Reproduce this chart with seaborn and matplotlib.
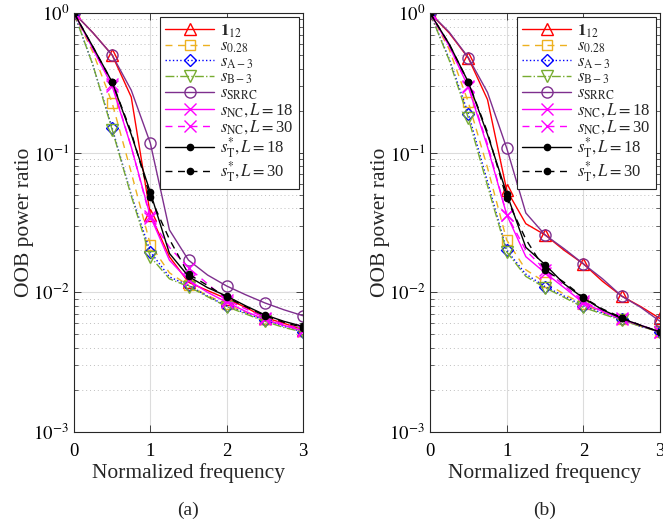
import numpy as np
import matplotlib
matplotlib.use("Agg")
import matplotlib.pyplot as plt
import seaborn as sns
from matplotlib.ticker import LogLocator, NullFormatter, FixedLocator

# ---------------- data ----------------
freq = [0, 0.25, 0.5, 0.75, 1, 1.25, 1.5, 1.75, 2, 2.25, 2.5, 2.75, 3]

# panel (a)
a_ones12 = [1, 0.72, 0.50, 0.25, 0.036, 0.018, 0.0118, 0.0103, 0.0090, 0.0078, 0.0066, 0.0060, 0.0054]
a_s028   = [1, 0.52, 0.227, 0.072, 0.022, 0.0138, 0.0112, 0.0095, 0.0082, 0.0072, 0.0064, 0.0058, 0.0053]
a_sA3    = [1, 0.42, 0.150, 0.050, 0.0195, 0.0129, 0.0112, 0.0094, 0.0080, 0.0071, 0.0063, 0.0057, 0.0052]
a_sB3    = [1, 0.42, 0.146, 0.049, 0.018, 0.0125, 0.0110, 0.0093, 0.0079, 0.0070, 0.0062, 0.0056, 0.0052]
a_srrc   = [1, 0.72, 0.50, 0.28, 0.117, 0.028, 0.017, 0.0133, 0.0111, 0.0096, 0.0084, 0.0075, 0.0068]
a_nc18   = [1, 0.55, 0.30, 0.11, 0.035, 0.017, 0.0122, 0.0100, 0.0085, 0.0073, 0.0064, 0.0058, 0.0053]
a_nc30   = [1, 0.55, 0.31, 0.11, 0.034, 0.021, 0.015, 0.0115, 0.0088, 0.0076, 0.0066, 0.0059, 0.0054]
a_t18    = [1, 0.57, 0.32, 0.135, 0.052, 0.019, 0.013, 0.0108, 0.0094, 0.0080, 0.0069, 0.0062, 0.0057]
a_t30    = [1, 0.57, 0.32, 0.14, 0.048, 0.024, 0.0135, 0.0112, 0.0092, 0.0079, 0.0068, 0.0061, 0.0056]

# panel (b)
b_ones12 = [1, 0.72, 0.476, 0.24, 0.054, 0.031, 0.0258, 0.020, 0.016, 0.012, 0.0094, 0.0079, 0.0065]
b_s028   = [1, 0.55, 0.23, 0.078, 0.0237, 0.0145, 0.0118, 0.0097, 0.0082, 0.0072, 0.0064, 0.0057, 0.0052]
b_sA3    = [1, 0.47, 0.19, 0.062, 0.020, 0.0135, 0.011, 0.0094, 0.0080, 0.0071, 0.0064, 0.0057, 0.0052]
b_sB3    = [1, 0.46, 0.177, 0.058, 0.0195, 0.013, 0.0108, 0.0092, 0.0078, 0.0070, 0.0063, 0.0057, 0.0052]
b_srrc   = [1, 0.73, 0.48, 0.27, 0.108, 0.037, 0.0258, 0.0205, 0.016, 0.0125, 0.0094, 0.0078, 0.0062]
b_nc18   = [1, 0.58, 0.295, 0.11, 0.036, 0.018, 0.0138, 0.0108, 0.0084, 0.0073, 0.0064, 0.0058, 0.0052]
b_nc30   = [1, 0.58, 0.30, 0.115, 0.036, 0.020, 0.0145, 0.0112, 0.0086, 0.0074, 0.0065, 0.0058, 0.0052]
b_t18    = [1, 0.60, 0.32, 0.135, 0.051, 0.021, 0.0158, 0.0115, 0.0091, 0.0075, 0.0065, 0.0058, 0.0052]
b_t30    = [1, 0.60, 0.32, 0.14, 0.047, 0.024, 0.0145, 0.0118, 0.0092, 0.0076, 0.0066, 0.0058, 0.0052]

labels = [r'$\mathbf{1}_{12}$', r'$s_{0.28}$', r'$s_{\mathrm{A-3}}$', r'$s_{\mathrm{B-3}}$',
          r'$s_{\mathrm{SRRC}}$', r'$s_{\mathrm{NC}}, L=$18', r'$s_{\mathrm{NC}}, L=$30',
          r'$s_{\mathrm{T}}^{*}, L=$18', r'$s_{\mathrm{T}}^{*}, L=$30']
xticks = [0, 1, 2, 3]
yticks = [1e-3, 1e-2, 1e-1, 1e0]
ytick_labels = [r'$10^{-3}$', r'$10^{-2}$', r'$10^{-1}$', r'$10^{0}$']
captions = ['(a)', '(b)']

styles = [
    dict(color='#FF0000', ls='-',  marker='^', ms=8,   mfc='none'),
    dict(color='#EDB120', ls=(0, (5, 4)), marker='s', ms=7, mfc='none'),
    dict(color='#0000FF', ls=':',  marker='D', ms=6.5, mfc='none'),
    dict(color='#77AC30', ls='-.', marker='v', ms=8,   mfc='none'),
    dict(color='#7E2F8E', ls='-',  marker='o', ms=8,   mfc='none'),
    dict(color='#FF00FF', ls='-',  marker='x', ms=8,   mfc='none'),
    dict(color='#FF00FF', ls=(0, (5, 4)), marker='x', ms=8, mfc='none'),
    dict(color='#000000', ls='-',  marker='o', ms=4.5, mfc='#000000'),
    dict(color='#000000', ls=(0, (5, 4)), marker='o', ms=4.5, mfc='#000000'),
]

sns.set_theme(style='ticks')
plt.rcParams['font.family'] = ['Liberation Serif', 'DejaVu Serif']
plt.rcParams['mathtext.fontset'] = 'stix'

fig = plt.figure(figsize=(6.63, 5.26), dpi=100)
ax1 = fig.add_axes([74/663, 1-432/526, (303-74)/663, (432-13)/526])
ax2 = fig.add_axes([430/663, 1-432/526, (660-430)/663, (432-13)/526])

panels = [
    (ax1, [a_ones12, a_s028, a_sA3, a_sB3, a_srrc, a_nc18, a_nc30, a_t18, a_t30]),
    (ax2, [b_ones12, b_s028, b_sA3, b_sB3, b_srrc, b_nc18, b_nc30, b_t18, b_t30]),
]

for k, (ax, series) in enumerate(panels):
    for ys, lab, st in zip(series, labels, styles):
        sns.lineplot(x=freq, y=ys, ax=ax, color=st['color'], linestyle=st['ls'],
                     marker=st['marker'], markersize=st['ms'], markerfacecolor=st['mfc'],
                     markeredgecolor=st['color'], markeredgewidth=1.0, markevery=2,
                     linewidth=1.0, label=lab, errorbar=None, estimator=None, sort=False)
    ax.set_yscale('log')
    ax.set_xlim(0, 3)
    ax.set_ylim(1e-3, 1)
    ax.xaxis.set_major_locator(FixedLocator(xticks))
    ax.yaxis.set_major_locator(FixedLocator(yticks))
    ax.set_yticklabels(ytick_labels)
    ax.yaxis.set_minor_locator(LogLocator(base=10, subs=np.arange(2, 10)))
    ax.yaxis.set_minor_formatter(NullFormatter())
    ax.tick_params(axis='both', which='both', direction='in', top=True, right=True,
                   labelsize=13.5, colors='#262626', labelcolor='black')
    ax.tick_params(axis='x', which='major', pad=8)
    ax.tick_params(which='major', length=5, width=0.6)
    ax.tick_params(which='minor', length=3, width=0.5)
    ax.grid(True, which='major', color='#DCDCDC', linewidth=0.8, linestyle='-')
    ax.yaxis.grid(True, which='minor', color='#BEBEBE', linewidth=0.7, linestyle=(0, (1, 3)))
    for sp in ax.spines.values():
        sp.set_color('#262626')
        sp.set_linewidth(0.8)
    ax.set_xlabel('Normalized frequency', fontsize=15.5, labelpad=2)
    ax.set_ylabel('OOB power ratio', fontsize=15.5, labelpad=-1)
    leg = ax.legend(loc='upper right', fontsize=12, frameon=True, fancybox=False,
                    edgecolor='#262626', framealpha=1, handlelength=2.9,
                    labelspacing=-0.05, borderpad=0.3, handletextpad=0.4,
                    borderaxespad=0.25)
    leg.get_frame().set_linewidth(0.8)
    ax.text(0.5, -0.186, captions[k], transform=ax.transAxes, ha='center', va='center',
            fontsize=14)

fig.savefig('out.png', dpi=100)
